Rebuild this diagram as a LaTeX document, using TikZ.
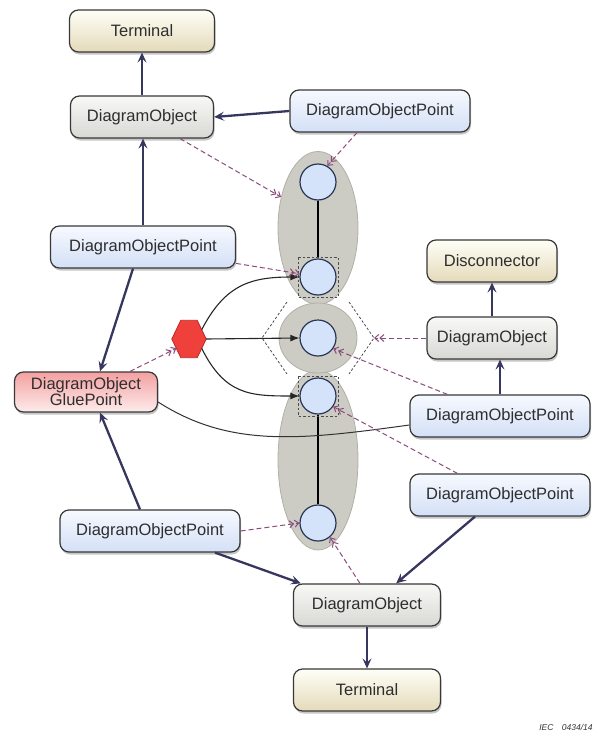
\documentclass[tikz,border=0pt]{standalone}
\usepackage{fontspec}
\setmainfont{Liberation Sans}
\usetikzlibrary{shapes.geometric,arrows.meta,shadows,calc}
\definecolor{navy}{HTML}{36365E}
\definecolor{dpurple}{HTML}{8A4C7C}
\definecolor{bborder}{HTML}{383838}
\definecolor{txt}{HTML}{2E2E2E}
\begin{document}
\begin{tikzpicture}[x=1pt,y=-1pt,
  box/.style={draw=bborder, line width=1.2pt, rounded corners=9pt, minimum height=42pt,
     font=\fontsize{16.5}{18}\selectfont, text=txt, align=center, inner sep=0pt,
     drop shadow={shadow xshift=1pt,shadow yshift=-2.5pt,opacity=0.45}},
  termbox/.style={box, top color=white!60!yellow!8, bottom color={rgb,255:red,228;green,218;blue,186}, minimum width=145pt},
  objbox/.style={box, top color={rgb,255:red,248;green,248;blue,246}, bottom color={rgb,255:red,216;green,216;blue,212}, minimum width=143pt},
  ptbox/.style={box, top color={rgb,255:red,246;green,249;blue,255}, bottom color={rgb,255:red,212;green,224;blue,246}, minimum width=180pt},
  gluebox/.style={box, top color={rgb,255:red,244;green,160;blue,160}, bottom color={rgb,255:red,253;green,236;blue,236}, minimum width=143pt, minimum height=40pt},
  ellbox/.style={ellipse, draw={rgb,255:red,176;green,176;blue,166}, line width=0.8pt, fill={rgb,255:red,204;green,204;blue,196}, inner sep=0pt},
  dot/.style={circle, draw={rgb,255:red,40;green,54;blue,84}, line width=1.2pt, fill={rgb,255:red,213;green,227;blue,250}, minimum size=36pt, inner sep=0pt},
  navyarrow/.style={draw=navy, line width=2.3pt, -{Stealth[length=10pt,width=9pt,inset=4pt]}},
  dasharrow/.style={draw=dpurple, line width=1pt, dash pattern=on 5pt off 3pt, -{Straight Barb[length=4pt,width=7pt]Straight Barb[length=4pt,width=7pt]}},
  blkarrow/.style={draw=black!85, line width=1.1pt, -{Latex[length=9pt,width=7pt]}},
  sel/.style={draw=black!70, line width=0.8pt, dash pattern=on 2.5pt off 2pt}
]
\useasboundingbox (0,0) rectangle (607,736);

% connector shapes
\node[ellbox, minimum width=80pt, minimum height=153pt] (e1) at (318,228) {};
\node[ellbox, minimum width=80pt, minimum height=180pt] (e3) at (318,460) {};
\node[ellbox, minimum width=78pt, minimum height=70pt] (e2) at (318,338) {};

\node[dot] (c1) at (318,182) {};
\node[dot] (c2) at (318,277) {};
\node[dot] (c3) at (318,338) {};
\node[dot] (c4) at (318,396) {};
\node[dot] (c5) at (318,523) {};
\draw[black, line width=1.5pt] (c1) -- (c2);
\draw[black, line width=1.5pt] (c4) -- (c5);

% selection markers
\coordinate (dl) at ($(c3)+(-56,0)$);
\coordinate (dr) at ($(c3)+(56,0)$);
\draw[sel] ($(c3)+(-31,-36)$) -- (dl) -- ($(c3)+(-31,36)$);
\draw[sel] ($(c3)+(31,-36)$) -- (dr) -- ($(c3)+(31,36)$);
\draw[sel] ($(c2)+(-20,-20)$) rectangle ($(c2)+(20,20)$);
\draw[sel] ($(c4)+(-20,-20)$) rectangle ($(c4)+(20,20)$);

% boxes
\node[termbox] (t1) at (142,31) {Terminal};
\node[objbox] (do1) at (142,117) {DiagramObject};
\node[ptbox] (p1) at (380,111) {DiagramObjectPoint};
\node[ptbox, minimum width=185pt] (p2) at (143,247) {DiagramObjectPoint};
\node[termbox, minimum width=130pt] (dis) at (492,261) {Disconnector};
\node[objbox, minimum width=130pt] (do2) at (492,338) {DiagramObject};
\node[gluebox] (gp) at (86,392) {DiagramObject\\[-2pt]GluePoint};
\node[ptbox] (p3) at (500,416) {DiagramObjectPoint};
\node[ptbox] (p4) at (500,495) {DiagramObjectPoint};
\node[ptbox] (p5) at (150,531) {DiagramObjectPoint};
\node[objbox, minimum width=147pt] (do3) at (367,605) {DiagramObject};
\node[termbox, minimum width=147pt] (t2) at (367,690) {Terminal};

% hexagon
\node[minimum width=34pt, minimum height=37pt, inner sep=0pt] (hx) at (189,339) {};
\coordinate (h1) at (hx.west);
\coordinate (h2) at ($(hx.north west)+(9,0)$);
\coordinate (h3) at ($(hx.north east)+(-9,0)$);
\coordinate (h4) at (hx.east);
\coordinate (h5) at ($(hx.south east)+(-9,0)$);
\coordinate (h6) at ($(hx.south west)+(9,0)$);
\draw[fill={rgb,255:red,240;green,64;blue,60}, draw={rgb,255:red,190;green,40;blue,36}, line width=0.8pt] (h1) -- (h2) -- (h3) -- (h4) -- (h5) -- (h6) -- cycle;

% thin black connectors
\draw[blkarrow] ($(h3)!0.5!(h4)$) .. controls (225,285) and (250,277) .. (c2.west);
\draw[blkarrow] (h4) -- (c3.west);
\draw[blkarrow] ($(h4)!0.5!(h5)$) .. controls (225,395) and (250,396) .. (c4.west);
\draw[black!80, line width=1pt] ($(gp.east)+(0,10)$) .. controls (230,448) and (300,440) .. ($(p3.west)+(0,9)$);

% thick navy arrows
\draw[navyarrow] (do1.north) -- (t1.south);
\draw[navyarrow] (p1.west) -- (do1.east);
\draw[navyarrow] (p2.north) -- (p2.north |- do1.south);
\draw[navyarrow] ($(p2.south)+(-10,0)$) -- ($(gp.north)+(14,0)$);
\draw[navyarrow] ($(p5.north)+(-10,0)$) -- ($(gp.south)+(14,0)$);
\draw[navyarrow] ($(p5.south)+(65,0)$) -- ($(do3.north west)+(8,0)$);
\draw[navyarrow] ($(p4.south)+(-25,0)$) -- ($(do3.north east)+(-45,0)$);
\draw[navyarrow] (do3.south) -- (t2.north);
\draw[navyarrow] (p3.north) -- (p3.north |- do2.south);
\draw[navyarrow] (do2.north) -- (dis.south);

% dashed purple arrows
\draw[dasharrow] ($(do1.south)+(38,0)$) -- (e1.140);
\draw[dasharrow] ($(p1.south)+(-23,0)$) -- (c1.60);
\draw[dasharrow] (p2.-10) -- (c2.170);
\draw[dasharrow] ($(gp.north)+(44,0)$) -- ($(h1)!0.5!(h6)$);
\draw[dasharrow] (do2.west) -- (dr);
\draw[dasharrow] ($(p3.north west)+(38,0)$) -- (c3.-35);
\draw[dasharrow] ($(p4.north west)+(48,0)$) -- (c4.-35);
\draw[dasharrow] (p5.east) -- (c5.west);
\draw[dasharrow] ($(do3.north)+(-7,0)$) -- (c5.-50);

\node[font=\fontsize{8.5}{10}\itshape\selectfont, text=black!80] (iec) at (566,727) {IEC\quad 0434/14};
\end{tikzpicture}
\end{document}
